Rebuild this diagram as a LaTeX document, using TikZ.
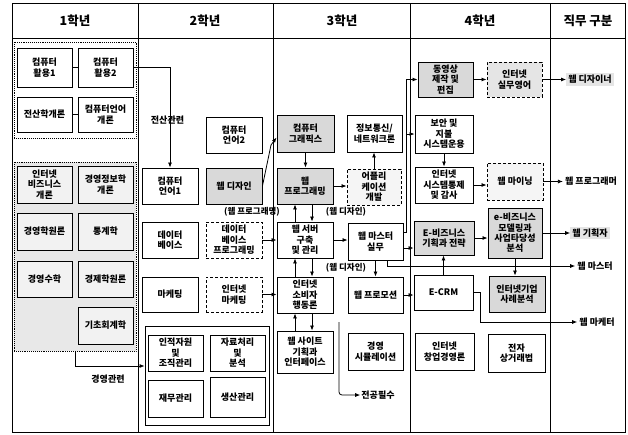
\documentclass[tikz,border=0pt]{standalone}
\usepackage{fontspec}
\setmainfont{Noto Sans CJK KR}
\usetikzlibrary{arrows.meta,fit,calc}
\newcommand{\bxf}{\fontsize{9}{10.4}\selectfont\bfseries}
\newcommand{\hdf}{\fontsize{12.5}{14}\selectfont\bfseries}
\newcommand{\lbf}{\fontsize{9}{11}\selectfont\bfseries}
\newcommand{\smf}{\fontsize{8.5}{10}\selectfont\bfseries}
\tikzset{
  box/.style={draw, line width=0.9pt, fill=white, inner sep=0pt},
  shd/.style={box, fill=gray!30},
  lgt/.style={box, fill=gray!10},
  dsh/.style={box, densely dashed},
  txt/.style={inner sep=0pt, align=center, font=\bxf},
  grp/.style={draw, densely dotted, line width=0.9pt, inner sep=0pt},
  arr/.style={line width=0.8pt, -{Latex[length=5pt,width=4pt]}},
  lnk/.style={line width=0.8pt},
  lab/.style={font=\lbf, inner sep=1pt},
  job/.style={font=\lbf, inner sep=2pt, anchor=center},
  tbl/.style={line width=1pt}
}
\newcommand{\bx}[4]{\node[#1, fit={#3}] (#2) {}; \node[txt] (#2t) at (#2.center) {#4};}
\begin{document}
\begin{tikzpicture}[x=1pt,y=-1pt]
\useasboundingbox (0,0) rectangle (628,434);
% table
\draw[tbl] (12,3) rectangle (625,432);
\draw[tbl] (12,38) -- (625,38);
\foreach \x in {138,273,410,550} \draw[tbl] (\x,3) -- (\x,432);
\node[font=\hdf] (h1) at (75,21) {1학년};
\node[font=\hdf] (h2) at (205,21) {2학년};
\node[font=\hdf] (h3) at (342,21) {3학년};
\node[font=\hdf] (h4) at (480,21) {4학년};
\node[font=\hdf] (h5) at (588,21) {직무 구분};
% groups
\node[grp, fit={(14,42) (136,138)}] (g1) {};
\node[grp, fill=gray!18, fit={(14,162) (136,351)}] (g2) {};
\node[draw, line width=0.8pt, inner sep=0pt, fit={(145,326) (269,425)}] (g3) {};
% column 1
\bx{box}{c11}{(17,48) (72,87)}{컴퓨터\\활용1}
\bx{box}{c12}{(78,48) (133,87)}{컴퓨터\\활용2}
\bx{box}{c13}{(17,97) (72,132)}{전산학개론}
\bx{box}{c14}{(78,97) (133,132)}{컴퓨터언어\\개론}
\bx{lgt}{b1}{(17,166) (72,203)}{인터넷\\비즈니스\\개론}
\bx{lgt}{b2}{(78,166) (133,203)}{경영정보학\\개론}
\bx{lgt}{b3}{(17,213) (72,250)}{경영학원론}
\bx{lgt}{b4}{(78,213) (133,250)}{통계학}
\bx{lgt}{b5}{(17,261) (72,297)}{경영수학}
\bx{lgt}{b6}{(78,261) (133,297)}{경제학원론}
\bx{lgt}{b7}{(78,307) (133,344)}{기초회계학}
\draw[lnk] (c11) -- (c12);
\draw[lnk] (c13) -- (c14);
% column 2
\bx{box}{l2}{(206,117) (262,153)}{컴퓨터\\언어2}
\bx{box}{l1}{(142,168) (198,204)}{컴퓨터\\언어1}
\bx{shd}{wd}{(206,168) (262,204)}{웹 디자인}
\bx{box}{db}{(142,222) (198,258)}{데이터\\베이스}
\bx{dsh}{dbp}{(206,222) (262,258)}{데이터\\베이스\\프로그래밍}
\bx{box}{mk}{(142,277) (198,312)}{마케팅}
\bx{dsh}{imk}{(206,277) (262,312)}{인터넷\\마케팅}
\bx{box}{hr}{(148,335) (203,371)}{인적자원\\및\\조직관리}
\bx{box}{dp}{(210,335) (265,371)}{자료처리\\및\\분석}
\bx{box}{fin}{(148,380) (203,417)}{재무관리}
\bx{box}{prod}{(210,377) (265,417)}{생산관리}
% column 3
\bx{shd}{cg}{(277,115) (334,152)}{컴퓨터\\그래픽스}
\bx{box}{net}{(347,115) (402,152)}{정보통신/\\네트워크론}
\bx{shd}{wp}{(277,168) (333,204)}{웹\\프로그래밍}
\bx{dsh,fill=gray!8}{app}{(347,169) (401,205)}{어플리\\케이션\\개발}
\bx{box}{ws}{(277,222) (333,258)}{웹 서버\\구축\\및 관리}
\bx{box}{wm}{(348,223) (403,260)}{웹 마스터\\실무}
\bx{box}{cb}{(277,277) (333,313)}{인터넷\\소비자\\행동론}
\bx{box}{wpr}{(348,277) (403,313)}{웹 프로모션}
\bx{box}{site}{(277,331) (333,373)}{웹 사이트\\기획과\\인터페이스}
\bx{box}{sim}{(348,333) (403,370)}{경영\\시뮬레이션}
% column 4
\bx{shd}{vid}{(418,62) (473,97)}{동영상\\제작 및\\편집}
\bx{dsh,fill=gray!20}{eng}{(487,62) (542,97)}{인터넷\\실무영어}
\bx{box}{sec}{(415,115) (473,153)}{보안 및\\지불\\시스템운용}
\bx{box}{ctl}{(415,167) (473,203)}{인터넷\\시스템통제\\및 감사}
\bx{dsh,fill=gray!8}{mine}{(487,163) (543,200)}{웹 마이닝}
\bx{shd}{ebiz}{(414,221) (474,255)}{E-비즈니스\\기획과 전략}
\bx{shd}{emod}{(488,208) (542,258)}{e-비즈니스\\모델링과\\사업타당성\\분석}
\bx{box}{crm}{(414,275) (473,310)}{E-CRM}
\bx{shd}{case}{(489,276) (545,312)}{인터넷기업\\사례분석}
\bx{box}{start}{(415,333) (474,370)}{인터넷\\창업경영론}
\bx{box}{law}{(488,334) (545,372)}{전자\\상거래법}
% jobs
\node[job, fill=gray!20] (jd) at (590,79.5) {웹 디자이너};
\node[job] (jp) at (591,181.5) {웹 프로그래머};
\node[job, fill=gray!20] (jk) at (590,233) {웹 기획자};
\node[job] (jm) at (595,266) {웹 마스터};
\node[job] (jmk) at (597,322) {웹 마케터};
% labels
\node[lab] (t1) at (167.5,120) {전산관련};
\node[lab] (t2) at (108,379) {경영관련};
\node[lab, font=\smf] (t3) at (252,212) {(웹 프로그래밍)};
\node[lab, font=\smf] (t4) at (346,212) {(웹 디자인)};
\node[lab, font=\smf] (t5) at (346,268) {(웹 디자인)};
\node[lab] (req) at (378,395) {전공필수};
\coordinate (vline) at (406,0);
\coordinate (bt) at (339,322);
% connectors
\draw[arr] (c12.east) -| (l1.north);
\draw[arr] (g2.south) |- ([yshift=9.5pt]g3.west);
\draw[arr] (wd.east) -- (271,145) -- ([yshift=-4pt]cg.west);
\draw[arr] (cg.south) -- (cg.south |- wp.north);
\draw[arr] (wp.east) -- (wp.east -| app.west);
\draw[arr] (app.north) -- (app.north |- net.south);
\draw[arr] ([xshift=-10pt]ws.north) -- ([xshift=-10pt]wp.south);
\draw[arr] ([xshift=7pt]wp.south) -- ([xshift=7pt]ws.north);
\draw[arr] ([xshift=-10pt]cb.north) -- ([xshift=-10pt]ws.south);
\draw[arr] ([xshift=7pt]ws.south) -- ([xshift=7pt]cb.north);
\draw[arr] ([xshift=-10pt]site.north) -- ([xshift=-10pt]cb.south);
\draw[arr] ([xshift=7pt]cb.south) -- ([xshift=7pt]site.north);
\draw[arr] (dbp.east) -- (dbp.east -| ws.west);
\draw[arr] (imk.east) -- (imk.east -| cb.west);
\draw[arr] (ws.east) -- (ws.east -| wm.west);
\draw[arr] (wm.south) -- (wm.south |- wpr.north);
\draw[arr] ([xshift=12pt]wm.south) |- (jm.west);
\draw[arr] ([yshift=-6.5pt]wm.east) -- ([yshift=-6.5pt]wm.east -| ebiz.west);
\draw[arr] ([yshift=9.5pt]wm.east) -| (vline |- vid.west) -- (vid.west);
\draw[arr] (vline |- sec.west) -- (sec.west);
\draw[arr] (wpr.east) -- (wpr.east -| crm.west);
\draw[arr] (crm.north) -- (crm.north |- ebiz.south);
\draw[arr] (ebiz.east) -- (ebiz.east -| emod.west);
\draw[arr] (emod.east) -- (jk.west);
\draw[arr] (emod.south) -- (emod.south |- case.north);
\draw[arr] (crm.east) -- ++(7,0) |- (jmk.west);
\draw[arr] (vid.east) -- (vid.east -| eng.west);
\draw[arr] (eng.east) -- (jd.west);
\draw[arr] (sec.south) -- (sec.south |- ctl.north);
\draw[arr] (ctl.east) -- (ctl.east -| mine.west);
\draw[arr] (mine.east) -- (jp.west);
\draw[arr, rounded corners=3pt] (bt) |- (req.west);
\end{tikzpicture}
\end{document}
